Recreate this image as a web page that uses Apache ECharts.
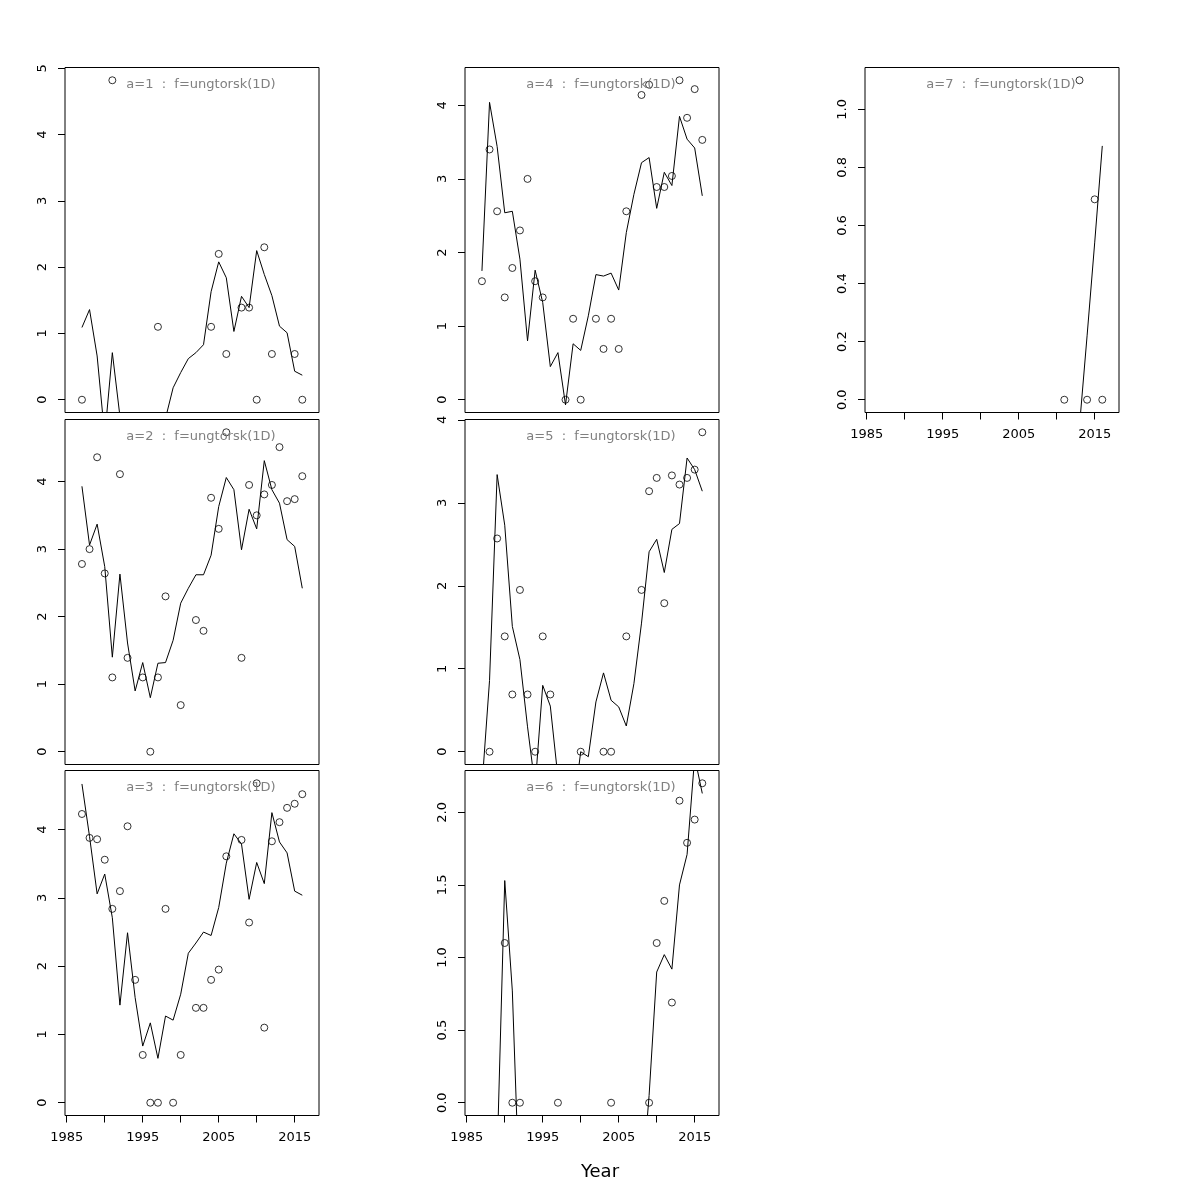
<!DOCTYPE html>
<html><head><meta charset="utf-8">
<script src="https://cdn.jsdelivr.net/npm/echarts@6/dist/echarts.min.js"></script>
<style>html,body{margin:0;padding:0;background:#fff}#c{width:1200px;height:1200px}</style>
</head><body><div id="c"></div>
<script>
// ---------------- data ----------------
const years = [1987,1988,1989,1990,1991,1992,1993,1994,1995,1996,1997,1998,1999,2000,2001,2002,2003,2004,2005,2006,2007,2008,2009,2010,2011,2012,2013,2014,2015,2016];

// observed (points); null = no observation
const obs_a1 = [0,null,null,null,4.82,null,null,null,null,null,1.10,null,null,null,null,null,null,1.10,2.20,0.69,null,1.39,1.39,0,2.30,0.69,null,null,0.69,0];
const obs_a2 = [2.78,3.00,4.36,2.64,1.10,4.11,1.39,null,1.10,0,1.10,2.30,null,0.69,null,1.95,1.79,3.76,3.30,4.73,null,1.39,3.95,3.50,3.81,3.95,4.51,3.71,3.74,4.08];
const obs_a3 = [4.23,3.88,3.86,3.56,2.84,3.10,4.05,1.80,0.70,0,0,2.84,0,0.70,null,1.39,1.39,1.80,1.95,3.61,null,3.85,2.64,4.68,1.10,3.83,4.11,4.32,4.38,4.52];
const obs_a4 = [1.61,3.40,2.56,1.39,1.79,2.30,3.00,1.61,1.39,null,null,0,1.10,0,null,1.10,0.69,1.10,0.69,2.56,null,4.14,4.28,2.89,2.89,3.04,4.34,3.83,4.22,3.53];
const obs_a5 = [null,0,2.57,1.39,0.69,1.95,0.69,0,1.39,0.69,null,null,null,0,null,null,0,0,null,1.39,null,1.95,3.14,3.30,1.79,3.33,3.22,3.30,3.40,3.85];
const obs_a6 = [null,null,null,1.10,0,0,null,null,null,null,0,null,null,null,null,null,null,0,null,null,null,null,0,1.10,1.39,0.69,2.08,1.79,1.95,2.20];
const obs_a7 = [null,null,null,null,null,null,null,null,null,null,null,null,null,null,null,null,null,null,null,null,null,null,null,null,0,null,1.10,0,0.69,0];

// fitted (lines); null = not visible / not estimated
const fit_a1 = [1.09,1.36,0.66,-0.55,0.71,-0.25,null,null,null,null,null,-0.28,0.18,0.41,0.62,0.71,0.83,1.63,2.08,1.84,1.03,1.56,1.39,2.25,1.89,1.57,1.11,1.01,0.43,0.37];
const fit_a2 = [3.93,3.06,3.37,2.74,1.40,2.63,1.61,0.90,1.32,0.80,1.31,1.32,1.65,2.20,2.42,2.62,2.62,2.91,3.63,4.06,3.88,2.99,3.59,3.30,4.31,3.88,3.68,3.14,3.04,2.42];
const fit_a3 = [4.67,3.90,3.06,3.35,2.71,1.43,2.49,1.54,0.83,1.17,0.65,1.27,1.21,1.59,2.19,2.34,2.50,2.45,2.86,3.51,3.94,3.79,2.98,3.52,3.21,4.25,3.82,3.66,3.10,3.04];
const fit_a4 = [1.75,4.04,3.44,2.54,2.56,1.91,0.80,1.76,1.32,0.45,0.64,-0.07,0.76,0.67,1.14,1.70,1.68,1.72,1.49,2.27,2.79,3.22,3.29,2.60,3.09,2.91,3.85,3.54,3.42,2.77];
const fit_a5 = [-0.42,0.86,3.34,2.73,1.51,1.11,0.30,-0.42,0.80,0.55,-0.31,null,-0.72,0.00,-0.06,0.60,0.95,0.62,0.54,0.31,0.82,1.55,2.41,2.56,2.16,2.68,2.75,3.54,3.40,3.14];
const fit_a6 = [null,null,-0.37,1.53,0.77,-0.73,null,null,null,null,null,null,null,null,null,null,null,null,null,null,null,-0.60,0.05,0.90,1.02,0.92,1.50,1.71,2.38,2.13];
const fit_a7 = [null,null,null,null,null,null,null,null,null,null,null,null,null,null,null,null,null,null,null,null,null,null,null,null,null,null,-0.09,0.22,0.54,0.874];

const xTicks = [1985,1990,1995,2000,2005,2010,2015];
const xTickLabels = [1985,1995,2005,2015];
const yTicks_a1 = [0,1,2,3,4,5];
const yTicks_a2 = [0,1,2,3,4];
const yTicks_a3 = [0,1,2,3,4];
const yTicks_a4 = [0,1,2,3,4];
const yTicks_a5 = [0,1,2,3,4];
const yTicks_a6 = [0,0.5,1.0,1.5,2.0];
const yTicks_a7 = [0,0.2,0.4,0.6,0.8,1.0];

const panelTitles = ['a=1  :  f=ungtorsk(1D)','a=2  :  f=ungtorsk(1D)','a=3  :  f=ungtorsk(1D)','a=4  :  f=ungtorsk(1D)','a=5  :  f=ungtorsk(1D)','a=6  :  f=ungtorsk(1D)','a=7  :  f=ungtorsk(1D)'];
const xAxisTitle = 'Year';

// ---------------- layout ----------------
const FONT = 'DejaVu Sans';
const colLeft = [65, 465, 865];
const rowTop = [67.5, 419.5, 770.5];
const W = 254, H = 345;
const XMIN = 1984.77, XMAX = 2018.2;

const panels = [
  {obs: obs_a1, fit: fit_a1, ticks: yTicks_a1, col: 0, row: 0, xlab: false, dec: 0},
  {obs: obs_a2, fit: fit_a2, ticks: yTicks_a2, col: 0, row: 1, xlab: false, dec: 0},
  {obs: obs_a3, fit: fit_a3, ticks: yTicks_a3, col: 0, row: 2, xlab: true, dec: 0},
  {obs: obs_a4, fit: fit_a4, ticks: yTicks_a4, col: 1, row: 0, xlab: false, dec: 0},
  {obs: obs_a5, fit: fit_a5, ticks: yTicks_a5, col: 1, row: 1, xlab: false, dec: 0},
  {obs: obs_a6, fit: fit_a6, ticks: yTicks_a6, col: 1, row: 2, xlab: true, dec: 1},
  {obs: obs_a7, fit: fit_a7, ticks: yTicks_a7, col: 2, row: 0, xlab: true, dec: 1}
];

const grid = [], xAxis = [], yAxis = [], series = [], title = [];
panels.forEach((p, i) => {
  const left = colLeft[p.col], top = rowTop[p.row];
  grid.push({left: left, top: top, width: W, height: H, show: true,
    borderColor: '#000', borderWidth: 1, backgroundColor: 'transparent', containLabel: false});
  xAxis.push({type: 'value', gridIndex: i, min: XMIN, max: XMAX, position: 'bottom',
    axisLine: {show: false, onZero: false}, splitLine: {show: false},
    axisTick: {show: p.xlab, length: 7, inside: false, customValues: xTicks, lineStyle: {color: '#000', width: 1}},
    axisLabel: {show: p.xlab, customValues: xTickLabels, margin: 16, fontSize: 13, color: '#000', fontFamily: FONT,
      formatter: v => String(v)}});
  const vals = p.obs.filter(v => v !== null);
  const lo = Math.min(...vals), hi = Math.max(...vals), r = hi - lo;
  yAxis.push({type: 'value', gridIndex: i, min: lo - 0.04 * r, max: hi + 0.04 * r, position: 'left',
    axisLine: {show: false, onZero: false}, splitLine: {show: false},
    axisTick: {show: true, length: 7, inside: false, customValues: p.ticks, lineStyle: {color: '#000', width: 1}},
    axisLabel: {show: true, customValues: p.ticks, rotate: 90, margin: 16, fontSize: 13, color: '#000', fontFamily: FONT,
      formatter: v => Number(v).toFixed(p.dec)}});
  series.push({type: 'line', xAxisIndex: i, yAxisIndex: i, showSymbol: false, symbol: 'none',
    clip: true, silent: true, connectNulls: false,
    lineStyle: {color: '#000', width: 1}, itemStyle: {color: '#000'},
    data: years.map((y, k) => [y, p.fit[k] === null ? '-' : p.fit[k]])});
  series.push({type: 'scatter', xAxisIndex: i, yAxisIndex: i, symbol: 'circle', symbolSize: 7,
    clip: false, silent: true,
    itemStyle: {color: 'rgba(0,0,0,0)', borderColor: '#000', borderWidth: 1},
    data: years.map((y, k) => [y, p.obs[k]]).filter(d => d[1] !== null)});
  title.push({text: panelTitles[i], left: left + 136, top: top + 17, textAlign: 'center', textVerticalAlign: 'middle',
    padding: 0, textStyle: {color: '#808080', fontSize: 13, fontWeight: 'normal', fontFamily: FONT}});
});
title.push({text: xAxisTitle, left: 600, top: 1172, textAlign: 'center', textVerticalAlign: 'middle', padding: 0,
  textStyle: {color: '#000', fontSize: 18, fontWeight: 'normal', fontFamily: FONT}});

const chart = echarts.init(document.getElementById('c'), null, {renderer: 'canvas'});
chart.setOption({animation: false, backgroundColor: '#fff', title, grid, xAxis, yAxis, series});
</script></body></html>
